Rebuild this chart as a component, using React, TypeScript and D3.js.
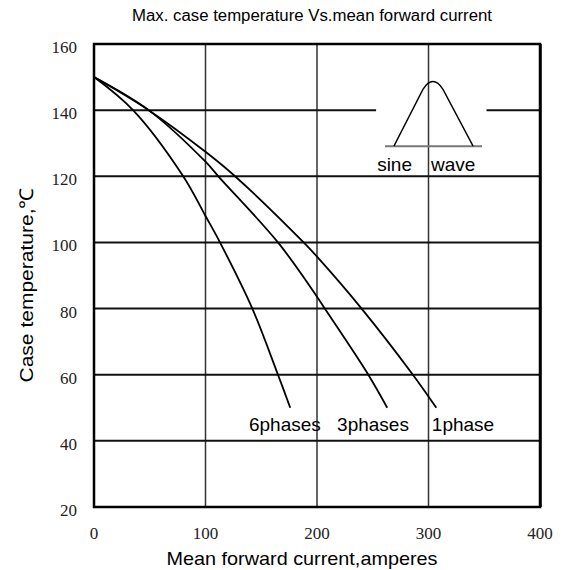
import React, { useRef, useEffect } from "react";
import * as d3 from "d3";

interface Pt {
  x: number;
  y: number;
}

// tick values
const xTicks = [0, 100, 200, 300, 400];
const yTicks = [20, 40, 60, 80, 100, 120, 140, 160];

// curves: current (A) vs case temp (°C)
const sixPhases: Pt[] = [
  { x: 0, y: 150 },
  { x: 35, y: 140 },
  { x: 80, y: 120 },
  { x: 100, y: 108 },
  { x: 113, y: 100 },
  { x: 142, y: 80 },
  { x: 165, y: 60 },
  { x: 176, y: 50 },
];
const threePhases: Pt[] = [
  { x: 0, y: 150 },
  { x: 49, y: 140 },
  { x: 100, y: 124.4 },
  { x: 111.5, y: 120 },
  { x: 165, y: 100 },
  { x: 200, y: 83.6 },
  { x: 207, y: 80 },
  { x: 246, y: 60 },
  { x: 263, y: 50 },
];
const onePhase: Pt[] = [
  { x: 0, y: 150 },
  { x: 49, y: 140 },
  { x: 100, y: 127.4 },
  { x: 126.5, y: 120 },
  { x: 188, y: 100 },
  { x: 200, y: 95.7 },
  { x: 240, y: 80 },
  { x: 286, y: 60 },
  { x: 307, y: 50 },
];

const seriesLabels = ["6phases", "3phases", "1phase"];
const labelAt = [139, 218, 303]; // left edge of each label, amperes

const W = 565;
const H = 570;
const sans = "Liberation Sans, Arial, sans-serif";
const serif = "Liberation Serif, Times New Roman, DejaVu Serif, serif";

const App: React.FC = () => {
  const svgRef = useRef<SVGSVGElement>(null);

  useEffect(() => {
    const svg = d3.select(svgRef.current);
    svg.selectAll("*").remove();

    const x = d3.scaleLinear().domain([0, 400]).range([94, 540]);
    const y = d3.scaleLinear().domain([20, 160]).range([507, 44]);

    const g = svg.append("g");

    // vertical grid
    g.selectAll("line.vg")
      .data(xTicks.slice(1, -1))
      .enter()
      .append("line")
      .attr("x1", (d) => x(d))
      .attr("x2", (d) => x(d))
      .attr("y1", y(160))
      .attr("y2", y(20))
      .attr("stroke", "#333")
      .attr("stroke-width", 1.5);

    // horizontal grid (140 is broken by the sine wave sketch)
    yTicks.slice(1, -1).forEach((t) => {
      const segs = t === 140 ? [[0, 253], [352, 400]] : [[0, 400]];
      segs.forEach(([a, b]) => {
        g.append("line")
          .attr("x1", x(a))
          .attr("x2", x(b))
          .attr("y1", y(t))
          .attr("y2", y(t))
          .attr("stroke", "#111")
          .attr("stroke-width", 2);
      });
    });

    // frame
    g.append("rect")
      .attr("x", x(0))
      .attr("y", y(160))
      .attr("width", x(400) - x(0))
      .attr("height", y(20) - y(160))
      .attr("fill", "none")
      .attr("stroke", "#000")
      .attr("stroke-width", 2.5);
    g.append("line")
      .attr("x1", x(400) + 1)
      .attr("x2", x(400) + 1)
      .attr("y1", y(160))
      .attr("y2", y(20))
      .attr("stroke", "#000")
      .attr("stroke-width", 1.5);

    // tick labels
    g.selectAll("text.yt")
      .data(yTicks)
      .enter()
      .append("text")
      .attr("x", 77)
      .attr("y", (d) => y(d) + 9)
      .attr("text-anchor", "end")
      .attr("font-family", serif)
      .attr("font-size", 17)
      .attr("fill", "#222")
      .text((d) => d);

    g.selectAll("text.xt")
      .data(xTicks)
      .enter()
      .append("text")
      .attr("x", (d) => x(d))
      .attr("y", 539)
      .attr("text-anchor", "middle")
      .attr("font-family", serif)
      .attr("font-size", 17)
      .attr("fill", "#222")
      .text((d) => d);

    // curves
    const line = d3
      .line<Pt>()
      .x((d) => x(d.x))
      .y((d) => y(d.y))
      .curve(d3.curveCatmullRom.alpha(0.5));

    [sixPhases, threePhases, onePhase].forEach((s) => {
      g.append("path")
        .attr("d", line(s))
        .attr("fill", "none")
        .attr("stroke", "#000")
        .attr("stroke-width", 1.8);
    });

    // curve labels
    seriesLabels.forEach((lab, i) => {
      g.append("text")
        .attr("x", x(labelAt[i]))
        .attr("y", y(43))
        .attr("font-family", sans)
        .attr("font-size", 19)
        .attr("fill", "#000")
        .text(lab);
    });

    // sine wave sketch
    g.append("line")
      .attr("x1", x(261))
      .attr("x2", x(348))
      .attr("y1", y(129.1))
      .attr("y2", y(129.1))
      .attr("stroke", "#777")
      .attr("stroke-width", 2);

    const p = d3.path();
    p.moveTo(x(269), y(129.1));
    p.lineTo(x(295), y(146.3));
    p.quadraticCurveTo(x(304), y(151), x(313), y(146.3));
    p.lineTo(x(340), y(129.1));
    g.append("path")
      .attr("d", p.toString())
      .attr("fill", "none")
      .attr("stroke", "#000")
      .attr("stroke-width", 1.4);

    g.append("text")
      .attr("x", 412)
      .attr("y", 171)
      .attr("text-anchor", "end")
      .attr("font-family", sans)
      .attr("font-size", 19)
      .text("sine");
    g.append("text")
      .attr("x", 431)
      .attr("y", 171)
      .attr("font-family", sans)
      .attr("font-size", 19)
      .text("wave");

    // titles
    svg
      .append("text")
      .attr("x", 312)
      .attr("y", 21)
      .attr("text-anchor", "middle")
      .attr("font-family", sans)
      .attr("font-size", 16)
      .attr("textLength", 360)
      .attr("lengthAdjust", "spacingAndGlyphs")
      .text("Max. case temperature  Vs.mean  forward  current");

    svg
      .append("text")
      .attr("x", 302)
      .attr("y", 565)
      .attr("text-anchor", "middle")
      .attr("font-family", sans)
      .attr("font-size", 19)
      .attr("textLength", 271)
      .attr("lengthAdjust", "spacingAndGlyphs")
      .text("Mean forward  current,amperes");

    svg
      .append("text")
      .attr("transform", "translate(33,285) rotate(-90)")
      .attr("text-anchor", "middle")
      .attr("font-family", sans)
      .attr("font-size", 19)
      .attr("textLength", 195)
      .attr("lengthAdjust", "spacingAndGlyphs")
      .text("Case temperature,℃");
  }, []);

  return (
    <svg
      ref={svgRef}
      width={W}
      height={H}
      style={{ position: "absolute", left: 0, top: 0, background: "#fff" }}
    ></svg>
  );
};

export default App;
